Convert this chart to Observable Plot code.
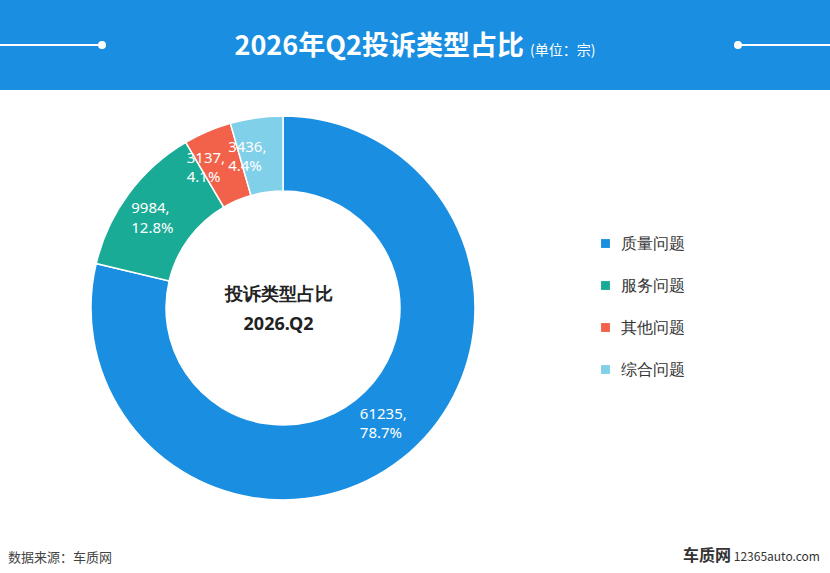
<!DOCTYPE html>
<html><head><meta charset="utf-8">
<script src="https://cdn.jsdelivr.net/npm/d3@7"></script>
<script src="https://cdn.jsdelivr.net/npm/@observablehq/plot@0.6"></script>
<style>
body{margin:0;width:830px;height:573px;background:#fff;font-family:"Noto Sans CJK SC","Noto Sans",sans-serif;overflow:hidden;position:relative}
#hdr{position:absolute;left:0;top:0;width:830px;height:90px;background:#1a8ee0}
#hdr .t{position:absolute;top:24px;width:830px;text-align:center;color:#fff;font-size:27px;font-weight:bold}
#hdr .t span{font-size:14px;font-weight:normal}
.ln{position:absolute;top:44px;height:2px;background:#fff}
.dot{position:absolute;top:41px;width:8px;height:8px;border-radius:4px;background:#fff}
#chart{position:absolute;left:0;top:90px}
#src{position:absolute;left:8px;top:547px;font-size:13px;color:#444}
#logo{position:absolute;right:10px;top:542px;font-size:16px;color:#333;font-weight:bold}
#logo span{font-size:12px;font-weight:normal}
</style></head><body>
<div id="hdr"><div class="ln" style="left:0;width:98px"></div><div class="dot" style="left:98px"></div>
<div class="ln" style="left:740px;width:90px"></div><div class="dot" style="left:734px"></div>
<div class="t">2026年Q2投诉类型占比 <span>(单位：宗)</span></div></div>
<div id="chart"></div>
<div id="src">数据来源：车质网</div>
<div id="logo">车质网<span> 12365auto.com</span></div>
<script>
const categories=["质量问题","服务问题","其他问题","综合问题"];
const values=[61235,9984,3137,3436];
const percents=["78.7%","12.8%","4.1%","4.4%"];
const colors=["#1a8ee0","#1aab96","#f2614a","#7fd0e8"];
const cx=283,cy=218,R=192,r0=117;
const arcs=d3.pie().sort(null).value(d=>d.v)(categories.map((c,i)=>({c,v:values[i],p:percents[i],col:colors[i]})));
const arc=d3.arc().innerRadius(r0).outerRadius(R);
const labelArc=d3.arc().innerRadius(r0+5).outerRadius(R-5);
const dxs=[0,0,-8,-6];
const lab=arcs.map((a,i)=>{const [x,y]=labelArc.centroid(a);return {x:cx+x+dxs[i],y:cy+y,t:a.data.v+",\n"+a.data.p};});
lab[0].x=cx+(R+r0)/2*Math.sin(2.4);lab[0].y=cy-(R+r0)/2*Math.cos(2.4);
const legend=categories.map((c,i)=>({c,col:colors[i],y:153+i*42}));
const chart=Plot.plot({width:830,height:452,margin:0,
 x:{type:"identity",axis:null},y:{type:"identity",axis:null},
 marks:[
  ()=>{const g=d3.create("svg:g").attr("transform",`translate(${cx},${cy})`);
    g.selectAll("path").data(arcs).join("path").attr("d",arc).attr("fill",d=>d.data.col).attr("stroke","#fff").attr("stroke-width",1.5);
    return g.node();},
  Plot.text(lab,{x:"x",y:"y",text:"t",fill:"#fff",fontSize:15,lineHeight:1.3,textAnchor:"start",dx:-28,fontFamily:"Noto Sans"}),
  Plot.text(["投诉类型占比","2026.Q2"],{x:cx-5,y:(d,i)=>cy-14+i*30,text:d=>d,fontSize:18,fontWeight:"bold",fill:"#222"}),
  Plot.dot(legend,{x:605,y:"y",symbol:"square",r:5,fill:"col"}),
  Plot.text(legend,{x:620,y:"y",text:"c",textAnchor:"start",fontSize:16,fill:"#333"})
 ]});
document.getElementById("chart").append(chart);
</script></body></html>
